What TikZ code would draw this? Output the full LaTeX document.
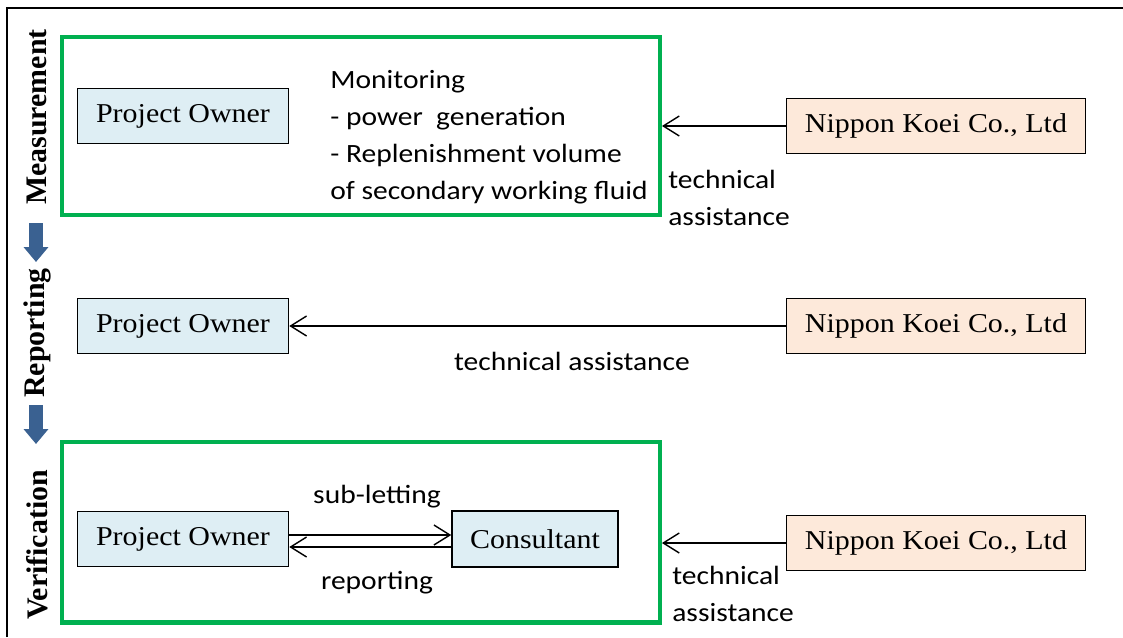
\documentclass[tikz,border=0pt]{standalone}
\usepackage{fontspec}
\setmainfont{Liberation Serif}[FakeStretch=1.1]
\newfontfamily\calfont{Carlito}[FakeStretch=1.12]
\newfontfamily\stagefont{Liberation Serif}
\usepackage{xcolor}
\usetikzlibrary{arrows.meta,positioning}
\definecolor{phasegreen}{HTML}{00B050}
\definecolor{ownerfill}{HTML}{DEEEF4}
\definecolor{firmfill}{HTML}{FDE9DA}
\definecolor{stageblue}{HTML}{3A6191}

\tikzset{
  ownerbox/.style={draw=black,line width=0.9pt,fill=ownerfill,inner sep=0pt,
    minimum width=4.22cm,minimum height=1.1cm,font=\fontsize{15.5}{18}\selectfont},
  firmbox/.style={draw=black,line width=0.9pt,fill=firmfill,inner sep=0pt,
    minimum width=5.98cm,minimum height=1.1cm,font=\fontsize{15.5}{18}\selectfont},
  phasebox/.style={draw=phasegreen,line width=2.3pt,inner sep=0pt},
  phaselabel/.style={rotate=90,font=\stagefont\fontsize{17}{19}\selectfont\bfseries},
  note/.style={align=left,inner sep=0pt,font=\calfont\fontsize{15}{21}\selectfont},
  flowarrow/.style={line width=0.8pt,-{Straight Barb[length=0.32cm,width=0.4cm]}},
  stagearrow/.style={stageblue,line width=0.28cm,-{Triangle[length=0.3cm,width=0.48cm]}}
}

\begin{document}
\begin{tikzpicture}[x=0.02cm,y=-0.02cm]
  \useasboundingbox (0,0) rectangle (1123,637);
  % frame
  \draw[line width=1.2pt] (7,637) -- (7,8) -- (1123,8);

  % stage labels and arrows
  \node[phaselabel] (lblmeasure) at (37,117) {Measurement};
  \node[phaselabel] (lblreport) at (37,333) {Reporting};
  \node[phaselabel] (lblverify) at (37,545) {Verification};
  \coordinate (s1top) at (36,223);
  \coordinate (s1end) at (36,262);
  \coordinate (s2top) at (36,405);
  \coordinate (s2end) at (36,444);
  \draw[stagearrow] (s1top) -- (s1end);
  \draw[stagearrow] (s2top) -- (s2end);

  % measurement
  \node[phasebox,minimum width=11.96cm,minimum height=3.56cm] (measure) at (361,126) {};
  \node[ownerbox] (owner1) at (183,116) {Project Owner};
  \node[note,anchor=west] (monitor) at (330,137) {Monitoring\\- power\ \ generation\\- Replenishment volume\\of secondary working fluid};
  \node[firmbox] (firm1) at (936,126) {Nippon Koei Co., Ltd};
  \draw[flowarrow] (firm1.west) -- (measure.east |- firm1.west);
  \node[note,anchor=west] (assist1) at (668,198) {technical\\assistance};

  % reporting
  \node[ownerbox] (owner2) at (183,326) {Project Owner};
  \node[firmbox] (firm2) at (936,326) {Nippon Koei Co., Ltd};
  \draw[flowarrow] (firm2.west) -- (owner2.east);
  \node[note] (assist2) at (572,361) {technical assistance};

  % verification
  \node[phasebox,minimum width=11.96cm,minimum height=3.62cm] (verify) at (361,532) {};
  \node[ownerbox] (owner3) at (183,539) {Project Owner};
  \node[ownerbox,minimum width=3.32cm,minimum height=1.12cm] (consult) at (535,539) {Consultant};
  \draw[flowarrow] ([yshift=0.08cm]owner3.east) -- ([yshift=0.08cm]consult.west);
  \draw[flowarrow] ([yshift=-0.16cm]consult.west) -- ([yshift=-0.16cm]owner3.east);
  \node[note] (sublet) at (377,497) {sub-letting};
  \node[note] (report) at (377,583) {reporting};
  \node[firmbox] (firm3) at (936,543) {Nippon Koei Co., Ltd};
  \draw[flowarrow] (firm3.west) -- (verify.east |- firm3.west);
  \node[note,anchor=west] (assist3) at (672,594) {technical\\assistance};
\end{tikzpicture}
\end{document}
